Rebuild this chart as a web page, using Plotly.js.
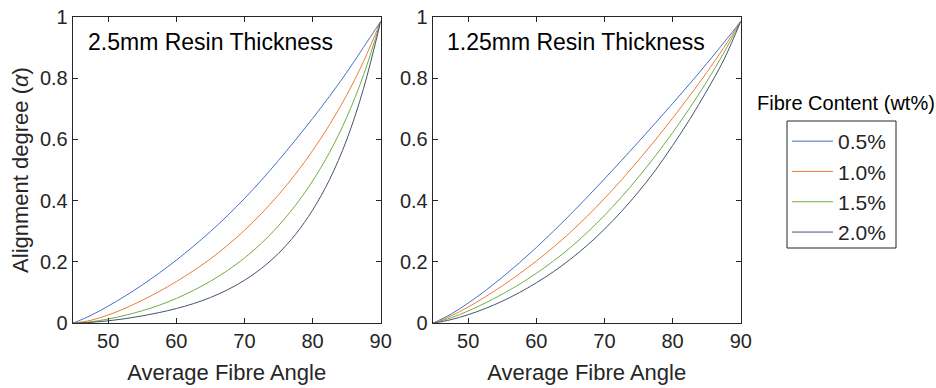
<!DOCTYPE html>
<html>
<head>
<meta charset="utf-8">
<script src="https://cdn.plot.ly/plotly-3.0.1.min.js"></script>
<style>html,body{margin:0;padding:0;background:#fff;}#chart{width:936px;height:388px;}</style>
</head>
<body>
<div id="chart"></div>
<script>
// Series labels and colours
const seriesNames = ["0.5%", "1.0%", "1.5%", "2.0%"];
const seriesColors = ["#4472C4", "#ED7D31", "#70AD47", "#44546A"];

const angle = [44.8, 47.5, 50, 52.5, 55, 57.5, 60, 62.5, 65, 67.5, 70, 72.5, 75, 77.5, 80, 82.5, 85, 87.5, 90];

// Left panel: 2.5mm Resin Thickness
const left05 = [0, 0.026, 0.056, 0.089, 0.125, 0.164, 0.206, 0.251, 0.299, 0.351, 0.407, 0.467, 0.531, 0.598, 0.668, 0.741, 0.818, 0.901, 0.985];
const left10 = [0, 0.010, 0.027, 0.049, 0.075, 0.104, 0.136, 0.171, 0.210, 0.254, 0.303, 0.358, 0.419, 0.487, 0.563, 0.648, 0.744, 0.855, 0.985];
const left15 = [0, 0.005, 0.014, 0.026, 0.041, 0.059, 0.081, 0.107, 0.137, 0.172, 0.213, 0.261, 0.318, 0.385, 0.464, 0.558, 0.671, 0.811, 0.985];
const left20 = [0, 0.003, 0.008, 0.015, 0.024, 0.035, 0.048, 0.064, 0.084, 0.109, 0.140, 0.179, 0.228, 0.290, 0.369, 0.469, 0.598, 0.767, 0.985];

// Right panel: 1.25mm Resin Thickness
const right05 = [0, 0.030, 0.066, 0.106, 0.150, 0.197, 0.247, 0.300, 0.355, 0.412, 0.471, 0.531, 0.592, 0.654, 0.717, 0.781, 0.847, 0.915, 0.985];
const right10 = [0, 0.024, 0.053, 0.086, 0.122, 0.161, 0.203, 0.248, 0.297, 0.350, 0.407, 0.468, 0.532, 0.599, 0.669, 0.742, 0.818, 0.899, 0.985];
const right15 = [0, 0.018, 0.040, 0.066, 0.095, 0.127, 0.163, 0.203, 0.247, 0.297, 0.352, 0.412, 0.477, 0.547, 0.622, 0.702, 0.788, 0.882, 0.985];
const right20 = [0, 0.012, 0.028, 0.048, 0.072, 0.100, 0.132, 0.168, 0.209, 0.255, 0.307, 0.365, 0.429, 0.500, 0.580, 0.665, 0.758, 0.859, 0.985];

const panelTitles = ["2.5mm Resin Thickness", "1.25mm Resin Thickness"];
const xTitle = "Average Fibre Angle";
const yTitle = "Alignment degree (<i>α</i>)";
const legendTitle = "Fibre Content (wt%)";

const leftSeries = [left05, left10, left15, left20];
const rightSeries = [right05, right10, right15, right20];

const FONT = "Liberation Sans, Arial, Helvetica, sans-serif";
const traces = [];
for (let i = 0; i < 4; i++) {
  traces.push({
    x: angle, y: leftSeries[i], type: "scatter", mode: "lines",
    name: seriesNames[i], legendgroup: seriesNames[i],
    line: {color: seriesColors[i], width: 1, shape: "spline", smoothing: 1},
    xaxis: "x", yaxis: "y", hoverinfo: "x+y"
  });
}
for (let i = 0; i < 4; i++) {
  traces.push({
    x: angle, y: rightSeries[i], type: "scatter", mode: "lines",
    name: seriesNames[i], legendgroup: seriesNames[i], showlegend: false,
    line: {color: seriesColors[i], width: 1, shape: "spline", smoothing: 1},
    xaxis: "x2", yaxis: "y2", hoverinfo: "x+y"
  });
}

const axCommon = {
  showline: true, mirror: "ticks", linecolor: "#262626", linewidth: 1,
  ticks: "inside", ticklen: 5, tickcolor: "#262626", tickwidth: 1,
  showgrid: false, zeroline: false,
  tickfont: {family: FONT, size: 20, color: "#262626"}
};
const xCommon = Object.assign({}, axCommon, {
  range: [44.8, 90], tick0: 50, dtick: 10,
  title: {text: xTitle, font: {family: FONT, size: 22, color: "#262626"}, standoff: 13}
});
const yCommon = Object.assign({}, axCommon, {range: [0, 1], dtick: 0.2});

const layout = {
  width: 936, height: 388,
  margin: {l: 0, r: 0, t: 0, b: 0, pad: 0},
  paper_bgcolor: "#fff", plot_bgcolor: "#fff",
  font: {family: FONT, color: "#262626"},
  xaxis: Object.assign({}, xCommon, {domain: [0.0777, 0.4067], anchor: "y"}),
  yaxis: Object.assign({}, yCommon, {domain: [0.1668, 0.9567], anchor: "x",
    title: {text: yTitle, font: {family: FONT, size: 22, color: "#262626"}, standoff: 5}}),
  xaxis2: Object.assign({}, xCommon, {domain: [0.4623, 0.7914], anchor: "y2"}),
  yaxis2: Object.assign({}, yCommon, {domain: [0.1668, 0.9567], anchor: "x2"}),
  showlegend: true,
  legend: {
    x: 787/936, y: (388-121)/388, xanchor: "left", yanchor: "top",
    borderwidth: 0, bgcolor: "rgba(0,0,0,0)",
    font: {family: FONT, size: 21, color: "#262626"},
    itemwidth: 41, tracegroupgap: 0
  },
  shapes: [
    {type: "rect", xref: "paper", yref: "paper",
     x0: 787/936, x1: 896/936, y0: (388-248)/388, y1: (388-121)/388,
     line: {color: "#262626", width: 1}, fillcolor: "rgba(0,0,0,0)"}
  ],
  annotations: [
    {text: panelTitles[0], xref: "paper", yref: "paper", x: 86/936, y: (388-42)/388,
     xanchor: "left", yanchor: "middle", showarrow: false, font: {family: FONT, size: 23, color: "#000"}},
    {text: panelTitles[1], xref: "paper", yref: "paper", x: 445/936, y: (388-42)/388,
     xanchor: "left", yanchor: "middle", showarrow: false, font: {family: FONT, size: 23, color: "#000"}},
    {text: legendTitle, xref: "paper", yref: "paper", x: 846/936, y: (388-103)/388,
     xanchor: "center", yanchor: "middle", showarrow: false, font: {family: FONT, size: 20, color: "#000"}}
  ]
};

Plotly.newPlot("chart", traces, layout, {staticPlot: true, displayModeBar: false});
</script>
</body>
</html>
